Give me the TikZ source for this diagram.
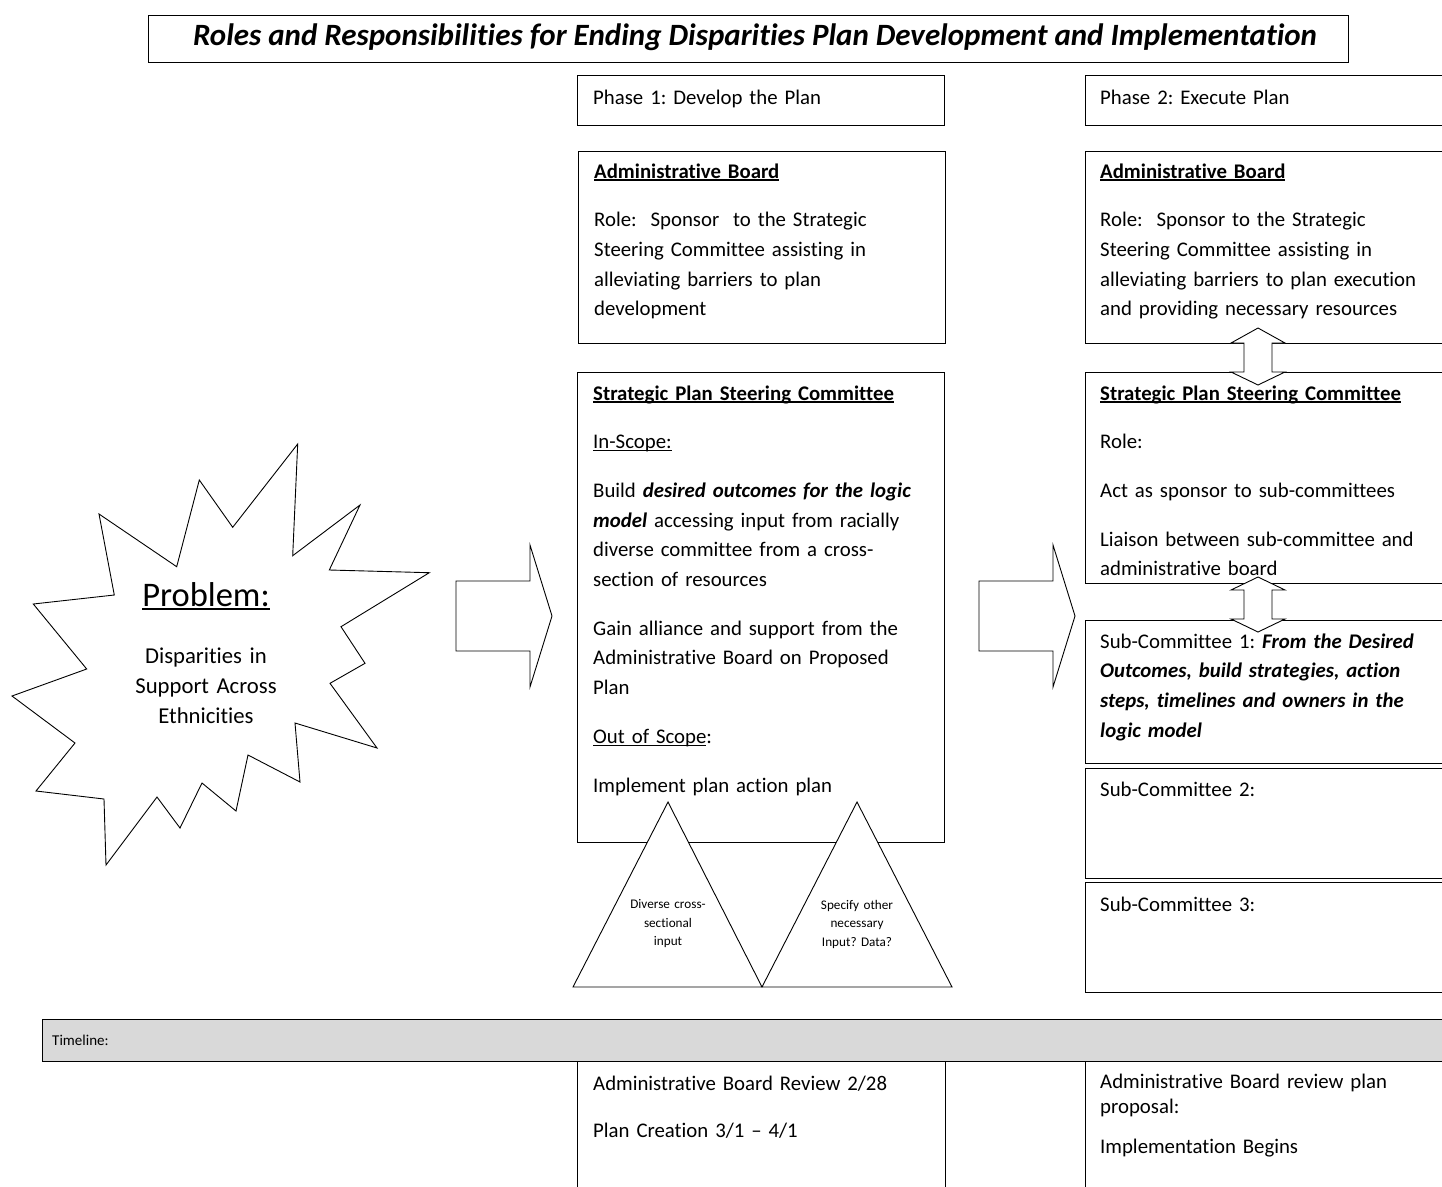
\documentclass[tikz,border=0pt]{standalone}
\usepackage{fontspec}
\setmainfont{Carlito}[Ligatures=NoCommon]
\frenchspacing
\newcommand{\ulin}[1]{\leavevmode\setbox0\hbox{#1}\rlap{\rule[-0.13em]{\wd0}{0.065em}}\box0}
\begin{document}
\begin{tikzpicture}[
    x=1pt, y=-1pt,
    line join=miter,
    panel/.style={draw=black, line width=1.1pt, fill=white, inner sep=0pt, anchor=north west},
    para/.style={anchor=base west, inner sep=0pt, text width=360pt, align=left, font=\fontsize{20.8}{29.7}\selectfont},
    cell/.style={anchor=base west, inner sep=0pt, text width=340pt, align=left, font=\fontsize{20.8}{25.6}\selectfont},
    trilab/.style={inner sep=0pt, text width=100pt, align=center, font=\fontsize{13.2}{18.5}\selectfont},
    blockarrow/.style={draw=black, line width=0.9pt, fill=white},
    burst/.style={draw=black, line width=0.9pt, fill=white},
    band/.style={draw=black, line width=1.1pt, fill=black!15, inner sep=0pt, anchor=north west}
]
\useasboundingbox (0,0) rectangle (1442,1186);

% heading
\node[panel, minimum width=1200pt, minimum height=47pt] (ttl) at (148,15) {};
\node[anchor=base, inner sep=0pt, font=\fontsize{31}{34}\selectfont\bfseries\itshape] (ttl-txt) at (755,45)
  {Roles and Responsibilities for Ending Disparities Plan Development and Implementation};

% problem
\draw[burst] (297.7,444) -- (292.7,555.7) -- (360,505) -- (329.3,570) -- (429.3,572.7)
  -- (341,626.7) -- (365,663.3) -- (330,683.3) -- (377,748) -- (295,723)
  -- (300,782) -- (248,755) -- (236,811) -- (202,783) -- (180,828)
  -- (157,797) -- (106,865) -- (104,799) -- (36,791) -- (75,743)
  -- (12,696) -- (86.7,669) -- (33.3,604) -- (114.3,595) -- (99,514)
  -- (176.7,566.7) -- (199.3,480) -- (232.7,527.3) -- cycle;
\node[anchor=base, inner sep=0pt, font=\fontsize{34.5}{38}\selectfont] (prob) at (206,606) {\ulin{Problem:}};
\node[anchor=base, inner sep=0pt, text width=180pt, align=center, font=\fontsize{22.7}{30.2}\selectfont] (prob-txt) at (206,663)
  {Disparities in\\ Support Across\\ Ethnicities};

% arrows between the columns
\draw[blockarrow] (456,581) -- (530,581) -- (530,545) -- (552,616) -- (530,687) -- (530,651) -- (456,651) -- cycle;
\draw[blockarrow] (979,581) -- (1053,581) -- (1053,545) -- (1075,616) -- (1053,687) -- (1053,651) -- (979,651) -- cycle;

% phase 1
\node[panel, minimum width=367pt, minimum height=50pt] (ph1) at (577,75) {};
\node[para] (ph1-txt) at (593,104) {Phase 1: Develop the Plan};

\node[panel, minimum width=367pt, minimum height=192pt] (ab1) at (578,151) {};
\node[para] (ab1-txt) at (594,178) {\ulin{\textbf{Administrative Board}}\\[19pt]
  Role:\ \ Sponsor\ \ to the Strategic\\
  Steering Committee assisting in\\
  alleviating barriers to plan\\
  development};

\node[panel, minimum width=367pt, minimum height=470pt] (sc1) at (577,372) {};
\node[para] (sc1-txt) at (593,400) {\ulin{\textbf{Strategic Plan Steering Committee}}\\[19pt]
  \ulin{In-Scope:}\\[19pt]
  Build \textbf{\textit{desired outcomes for the logic}}\\
  \textbf{\textit{model}} accessing input from racially\\
  diverse committee from a cross-\\
  section of resources\\[19pt]
  Gain alliance and support from the\\
  Administrative Board on Proposed\\
  Plan\\[19pt]
  \ulin{Out of Scope}:\\[19pt]
  Implement plan action plan};

\draw[blockarrow] (668,802) -- (762,987) -- (573,987) -- cycle;
\draw[blockarrow] (857,802) -- (952,987) -- (762,987) -- cycle;
\node[trilab] (in1) at (668,924) {Diverse cross-\\ sectional\\ input};
\node[trilab] (in2) at (857,924) {Specify other\\ necessary\\ Input? Data?};

% phase 2
\node[panel, minimum width=380pt, minimum height=50pt] (ph2) at (1085,75) {};
\node[para] (ph2-txt) at (1100,104) {Phase 2: Execute Plan};

\node[panel, minimum width=380pt, minimum height=192pt] (ab2) at (1085,151) {};
\node[para] (ab2-txt) at (1100,178) {\ulin{\textbf{Administrative Board}}\\[19pt]
  Role:\ \ Sponsor to the Strategic\\
  Steering Committee assisting in\\
  alleviating barriers to plan execution\\
  and providing necessary resources};

\node[panel, minimum width=380pt, minimum height=211pt] (sc2) at (1085,372) {};
\begin{scope}
  \clip (1086,373) rectangle (1460,582);
  \node[para] (sc2-txt) at (1100,400) {\ulin{\textbf{Strategic Plan Steering Committee}}\\[19pt]
    Role:\\[19pt]
    Act as sponsor to sub-committees\\[19pt]
    Liaison between sub-committee and\\
    administrative board};
\end{scope}

\node[panel, minimum width=380pt, minimum height=143pt] (sub1) at (1085,620) {};
\node[para] (sub1-txt) at (1100,648) {Sub-Committee 1: \textbf{\textit{From the Desired}}\\
  \textbf{\textit{Outcomes, build strategies, action}}\\
  \textbf{\textit{steps, timelines and owners in the}}\\
  \textbf{\textit{logic model}}};

\node[panel, minimum width=380pt, minimum height=110pt] (sub2) at (1085,768) {};
\node[para] (sub2-txt) at (1100,796) {Sub-Committee 2:};

\node[panel, minimum width=380pt, minimum height=110pt] (sub3) at (1085,882) {};
\node[para] (sub3-txt) at (1100,911) {Sub-Committee 3:};

\draw[blockarrow] (1258,328) -- (1285,343) -- (1272,343) -- (1272,372) -- (1285,372) -- (1258,385)
  -- (1231,372) -- (1244,372) -- (1244,343) -- (1231,343) -- cycle;
\draw[blockarrow] (1258,577) -- (1285,590) -- (1272,590) -- (1272,619) -- (1285,619) -- (1258,632)
  -- (1231,619) -- (1244,619) -- (1244,590) -- (1231,590) -- cycle;

% timeline
\node[band, minimum width=1420pt, minimum height=42pt] (tl) at (42,1019) {};
\node[cell] (tl-txt) at (52,1045) {\fontsize{15}{18}\selectfont Timeline:};

\node[panel, minimum width=368pt, minimum height=140pt] (tc1) at (577,1061) {};
\node[cell] (tc1-txt) at (593,1090) {Administrative Board Review 2/28\\[21.4pt]
  Plan Creation 3/1 – 4/1};

\node[panel, minimum width=380pt, minimum height=140pt] (tc2) at (1085,1061) {};
\node[cell] (tc2-txt) at (1100,1088) {Administrative Board review plan\\
  proposal:};
\node[para] (tc2-go) at (1100,1153) {Implementation Begins};

\end{tikzpicture}
\end{document}
